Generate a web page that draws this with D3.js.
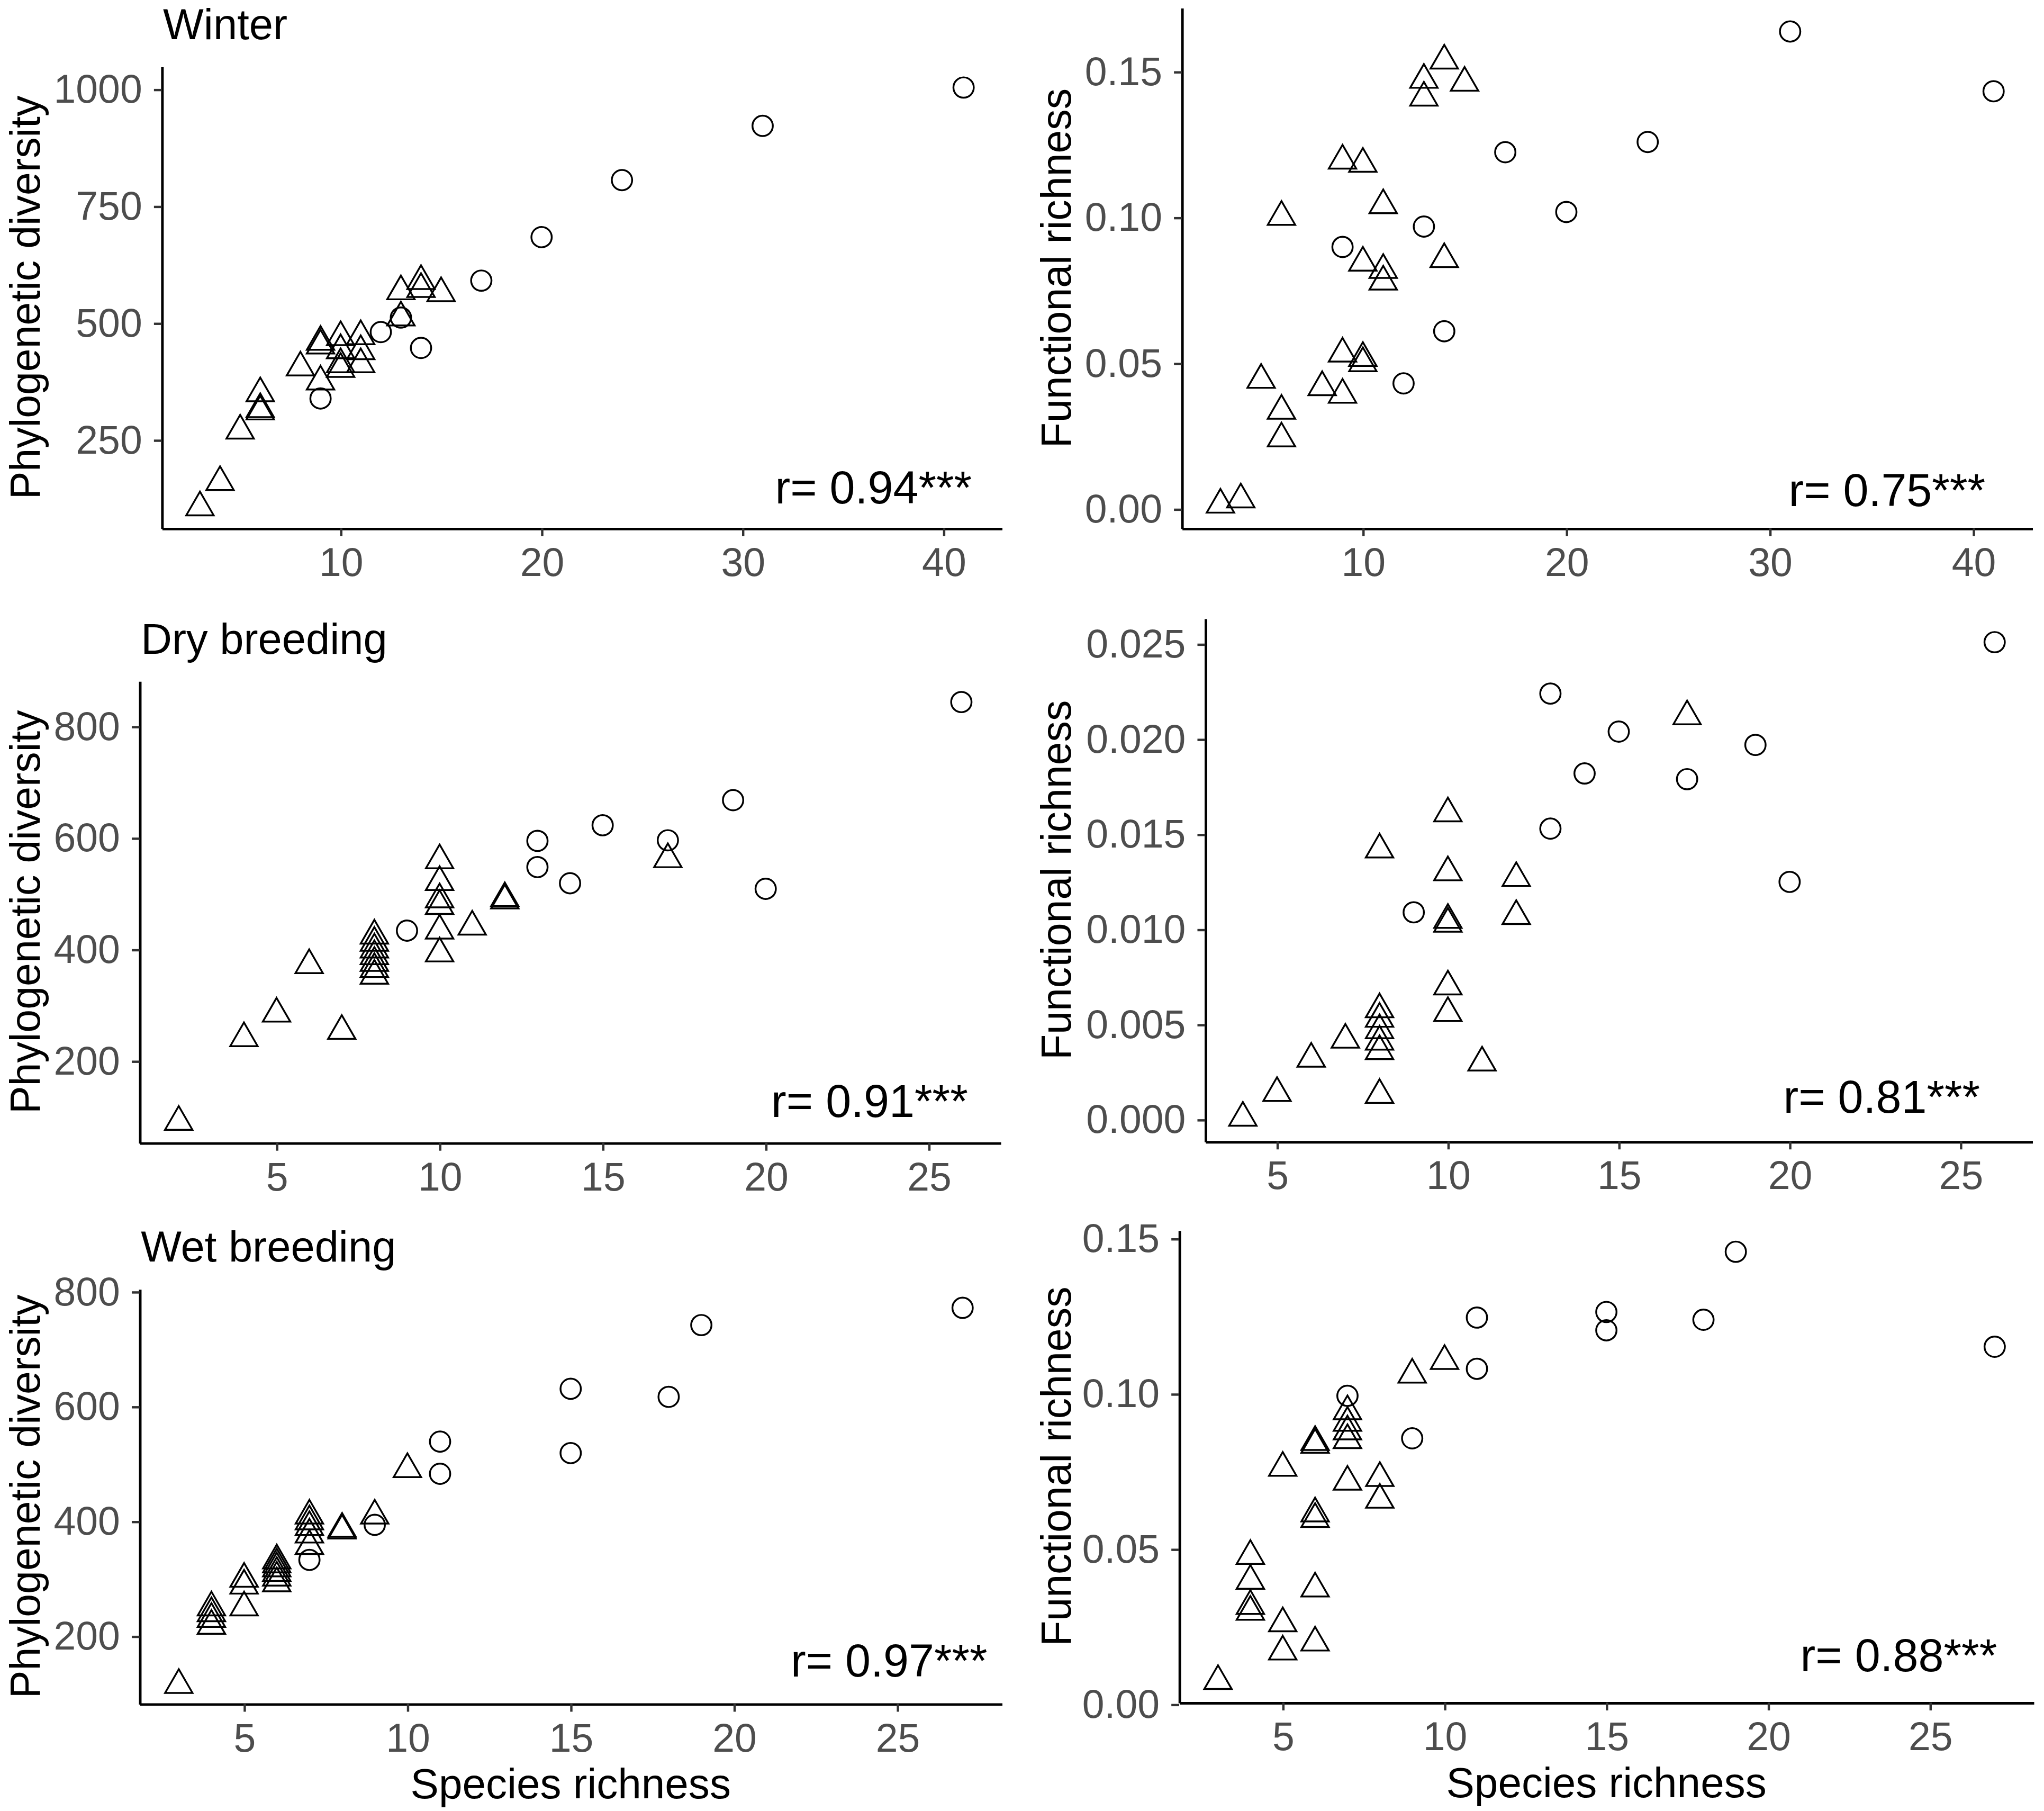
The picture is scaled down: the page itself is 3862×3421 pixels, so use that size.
<!DOCTYPE html>
<html>
<head>
<meta charset="utf-8">
<script src="https://cdn.jsdelivr.net/npm/d3@7"></script>
<style>
  body { margin: 0; background: #fff; }
  text { font-family: "Liberation Sans", Arial, sans-serif; }
</style>
</head>
<body>
<div id="chart"></div>
<script>
// values: [species richness, metric]
// triangles and circles are the two site groups
var winterPdTri = [[3,106],[4,160],[5,270],[6,350],[6,316],[6,311],[8,405],[9,375],[9,452],[9,460],[10,470],[10,442],[10,412],[10,402],[11,472],[11,440],[11,412],[13,568],[13,512],[14,590],[14,573],[15,564]];
var winterPdCirc = [[41,1004],[31,922],[24,806],[20,684],[17,591],[12,481],[13,512],[14,447],[9,339]];

var winterFrTri = [[14,0.1538],[13,0.1472],[15,0.1462],[13,0.1411],[9,0.1195],[10,0.1184],[11,0.1042],[6,0.1002],[14,0.0857],[10,0.0845],[11,0.0820],[11,0.0780],[9,0.0533],[10,0.0518],[10,0.0500],[5,0.0443],[8,0.0418],[9,0.0392],[6,0.0337],[6,0.0242],[3,0.0015],[4,0.0033]];
var winterFrCirc = [[31,0.1638],[41,0.1433],[24,0.1259],[17,0.1224],[20,0.1019],[13,0.0969],[9,0.0899],[14,0.0610],[12,0.0431]];

var dryPdTri = [[2,91],[4,241],[5,285],[6,372],[7,254],[8,425],[8,412],[8,400],[8,388],[8,376],[8,365],[8,353],[10,560],[10,521],[10,490],[10,478],[10,434],[10,393],[11,441],[12,492],[12,488],[17,562]];
var dryPdCirc = [[26,844],[19,668],[15,623],[17,596],[13,595],[13,548],[14,519],[20,509],[9,434]];

var dryFrTri = [[4,0.0001],[5,0.0014],[6,0.0032],[7,0.0042],[8,0.0013],[8,0.0142],[8,0.0058],[8,0.0053],[8,0.0047],[8,0.0041],[8,0.0036],[10,0.0161],[10,0.0130],[10,0.0105],[10,0.0103],[10,0.0070],[10,0.0056],[11,0.0030],[12,0.0127],[12,0.0107],[17,0.0212]];
var dryFrCirc = [[26,0.0251],[13,0.0224],[15,0.0204],[19,0.0197],[14,0.0182],[17,0.0179],[13,0.0153],[20,0.0125],[9,0.0109]];

var wetPdTri = [[3,115],[4,250],[4,240],[4,230],[4,218],[5,300],[5,288],[5,250],[6,332],[6,325],[6,318],[6,310],[6,302],[6,292],[7,410],[7,400],[7,390],[7,377],[7,357],[8,387],[8,384],[9,410],[10,491]];
var wetPdCirc = [[27,772],[19,742],[15,631],[18,617],[11,539],[15,519],[11,483],[9,394],[7,333]];

var wetFrTri = [[3,0.0075],[4,0.0478],[4,0.0398],[4,0.0317],[4,0.0298],[5,0.0762],[5,0.0261],[5,0.0170],[6,0.0845],[6,0.0836],[6,0.0615],[6,0.0597],[6,0.0373],[6,0.0199],[7,0.0944],[7,0.0907],[7,0.0879],[7,0.0851],[7,0.0717],[8,0.0729],[8,0.0659],[9,0.1062],[10,0.1106]];
var wetFrCirc = [[27,0.1152],[19,0.1458],[15,0.1264],[15,0.1205],[18,0.1239],[11,0.1246],[11,0.1081],[9,0.0857],[7,0.0994]];

// tick labels
var xTicksWinter = [10, 20, 30, 40];
var xTicksBreeding = [5, 10, 15, 20, 25];
var yTicksWinterPd = [250, 500, 750, 1000];
var yTicksPd = [200, 400, 600, 800];
var yTicksFr = [0, 0.05, 0.10, 0.15];
var yTicksDryFr = [0, 0.005, 0.010, 0.015, 0.020, 0.025];

var seasonTitles = ["Winter", "Dry breeding", "Wet breeding"];
var corrLabels = ["r= 0.94***", "r= 0.75***", "r= 0.91***", "r= 0.81***", "r= 0.97***", "r= 0.88***"];

// drawing happens in a 1567 x 1388 coordinate space scaled up to the window
var W = 1567, H = 1388.1;
var svg = d3.select("#chart").append("svg")
  .attr("width", 3862)
  .attr("height", 3421)
  .attr("viewBox", "0 0 " + W + " " + H);

svg.append("rect").attr("width", W).attr("height", H).attr("fill", "#fff");

var panels = [
  {tri: winterPdTri, circ: winterPdCirc, xt: xTicksWinter, yt: yTicksWinterPd, fmt: d3.format("d"),
   box: {l: 124, r: 768, t: 51, b: 405}, title: seasonTitles[0], ytitle: "Phylogenetic diversity",
   ytx: 30.5, r: corrLabels[0], roff: [23, 19]},
  {tri: winterFrTri, circ: winterFrCirc, xt: xTicksWinter, yt: yTicksFr, fmt: d3.format(".2f"),
   box: {l: 906, r: 1558, t: 6, b: 405}, ytitle: "Functional richness",
   ytx: 821, r: corrLabels[1], roff: [36, 17]},
  {tri: dryPdTri, circ: dryPdCirc, xt: xTicksBreeding, yt: yTicksPd, fmt: d3.format("d"),
   box: {l: 107, r: 767, t: 522, b: 876}, title: seasonTitles[1], ytitle: "Phylogenetic diversity",
   ytx: 30.5, r: corrLabels[2], roff: [25, 20]},
  {tri: dryFrTri, circ: dryFrCirc, xt: xTicksBreeding, yt: yTicksDryFr, fmt: d3.format(".3f"),
   box: {l: 924, r: 1558, t: 474, b: 875}, ytitle: "Functional richness",
   ytx: 821, r: corrLabels[3], roff: [40, 22]},
  {tri: wetPdTri, circ: wetPdCirc, xt: xTicksBreeding, yt: yTicksPd, fmt: d3.format("d"),
   box: {l: 107, r: 768, t: 988, b: 1306}, title: seasonTitles[2], ytitle: "Phylogenetic diversity",
   ytx: 30.5, r: corrLabels[4], roff: [11, 21], xtitle: "Species richness"},
  {tri: wetFrTri, circ: wetFrCirc, xt: xTicksBreeding, yt: yTicksFr, fmt: d3.format(".2f"),
   box: {l: 904, r: 1559, t: 943, b: 1305}, ytitle: "Functional richness",
   ytx: 821, r: corrLabels[5], roff: [28, 24], xtitle: "Species richness"}
];

// ggplot style 5% expansion of the data range
function expanded(vals) {
  var ext = d3.extent(vals);
  var pad = (ext[1] - ext[0]) * 0.05;
  return [ext[0] - pad, ext[1] + pad];
}

// R pch 2 triangle around its centre
var R = 7.8;
var triPath = "M0," + (-1.5551 * R) + "L" + (1.3468 * R) + "," + (0.7776 * R) +
  "L" + (-1.3468 * R) + "," + (0.7776 * R) + "Z";

panels.forEach(function(p) {
  var all = p.tri.concat(p.circ);
  var x = d3.scaleLinear().domain(expanded(all.map(d => d[0]))).range([p.box.l, p.box.r]);
  var y = d3.scaleLinear().domain(expanded(all.map(d => d[1]))).range([p.box.b, p.box.t]);

  var g = svg.append("g");

  // axes
  var xAxis = g.append("g")
    .attr("transform", "translate(0," + p.box.b + ")")
    .call(d3.axisBottom(x).tickValues(p.xt).tickSize(6).tickSizeOuter(0).tickPadding(8.8));
  var yAxis = g.append("g")
    .attr("transform", "translate(" + p.box.l + ",0)")
    .call(d3.axisLeft(y).tickValues(p.yt).tickFormat(p.fmt).tickSize(6).tickSizeOuter(0).tickPadding(9));

  [xAxis, yAxis].forEach(function(a) {
    a.select(".domain").attr("stroke", "#000").attr("stroke-width", 2);
    a.selectAll(".tick line").attr("stroke", "#333").attr("stroke-width", 1.8);
    a.selectAll(".tick text")
      .attr("fill", "#4d4d4d")
      .style("font-size", "30.5px")
      .style("font-family", "'Liberation Sans', Arial, sans-serif");
  });

  // points
  g.selectAll(".tri")
    .data(p.tri)
    .enter()
    .append("path")
    .attr("d", triPath)
    .attr("transform", d => "translate(" + x(d[0]) + "," + y(d[1]) + ")")
    .attr("fill", "none")
    .attr("stroke", "#000")
    .attr("stroke-width", 1.4);

  g.selectAll(".circ")
    .data(p.circ)
    .enter()
    .append("circle")
    .attr("cx", d => x(d[0]))
    .attr("cy", d => y(d[1]))
    .attr("r", R)
    .attr("fill", "none")
    .attr("stroke", "#000")
    .attr("stroke-width", 1.4);

  // correlation label
  g.append("text")
    .attr("x", p.box.r - p.roff[0])
    .attr("y", p.box.b - p.roff[1])
    .attr("text-anchor", "end")
    .style("font-size", "35px")
    .attr("fill", "#000")
    .text(p.r);

  // y axis title
  g.append("text")
    .attr("transform", "translate(" + p.ytx + "," + ((p.box.t + p.box.b) / 2) + ") rotate(-90)")
    .attr("text-anchor", "middle")
    .style("font-size", "32px")
    .attr("fill", "#000")
    .text(p.ytitle);

  // season title
  if (p.title) {
    g.append("text")
      .attr("x", p.box.l + 1)
      .attr("y", p.box.t - 21)
      .style("font-size", "33px")
      .attr("fill", "#000")
      .text(p.title);
  }

  // x axis title on the bottom row
  if (p.xtitle) {
    g.append("text")
      .attr("x", (p.box.l + p.box.r) / 2)
      .attr("y", p.box.b + 72.5)
      .attr("text-anchor", "middle")
      .style("font-size", "32.5px")
      .attr("fill", "#000")
      .text(p.xtitle);
  }
});
</script>
</body>
</html>
